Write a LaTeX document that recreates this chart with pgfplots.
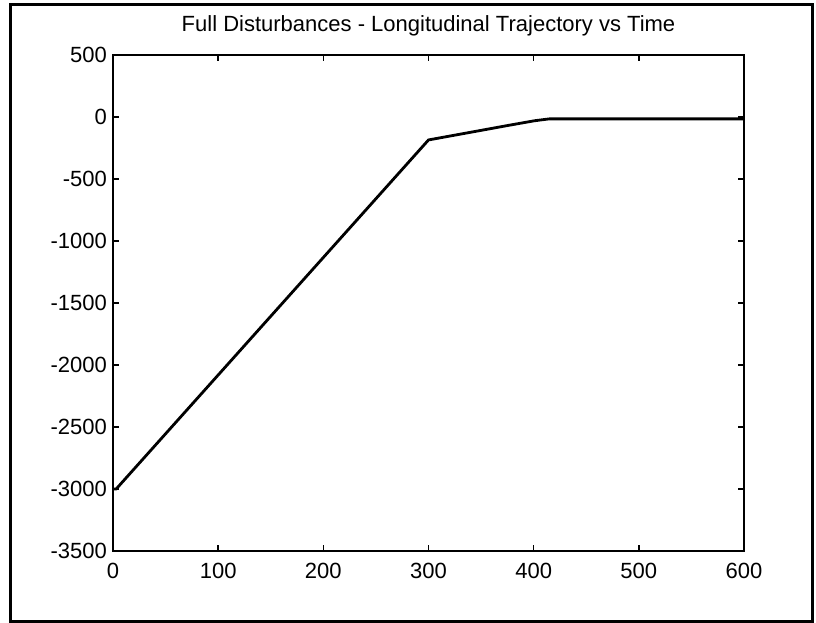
\documentclass[border=0pt]{standalone}
\usepackage{fontspec}
\setmainfont{Liberation Sans}
\usepackage{pgfplots}
\pgfplotsset{compat=1.18}
\begin{document}
\begin{tikzpicture}[x=1bp,y=1bp]
\useasboundingbox (0,0) rectangle (816,-623);
\draw[line width=3bp] (10,-5) rectangle (812,-621);
\begin{axis}[
  at={(113bp,-551bp)}, anchor=south west,
  width=631bp, height=496bp, scale only axis,
  xmin=0, xmax=600, ymin=-3500, ymax=500,
  xtick={0,100,...,600}, ytick={-3500,-3000,...,500},
  tick align=inside, major tick length=6bp,
  axis line style={line width=2bp},
  every tick/.style={line width=1.5bp, black},
  ticklabel style={font=\fontsize{22bp}{24bp}\selectfont, inner sep=0pt},
  yticklabel style={xshift=-6bp},
  xticklabel style={yshift=-12bp},
  /pgf/number format/assume math mode=true,
  /pgf/number format/1000 sep={},
  title={Full Disturbances - Longitudinal Trajectory vs Time},
  title style={font=\fontsize{22bp}{26bp}\selectfont, at={(0.5,1)}, anchor=base, inner sep=0pt, yshift=18bp},
]
\addplot[black, line width=2.8bp, line join=round] coordinates {
(0,-3000) (3,-3000) (300,-185)
(377,-66) (401,-30) (415,-15) (600,-15)
};
\end{axis}
\end{tikzpicture}
\end{document}
